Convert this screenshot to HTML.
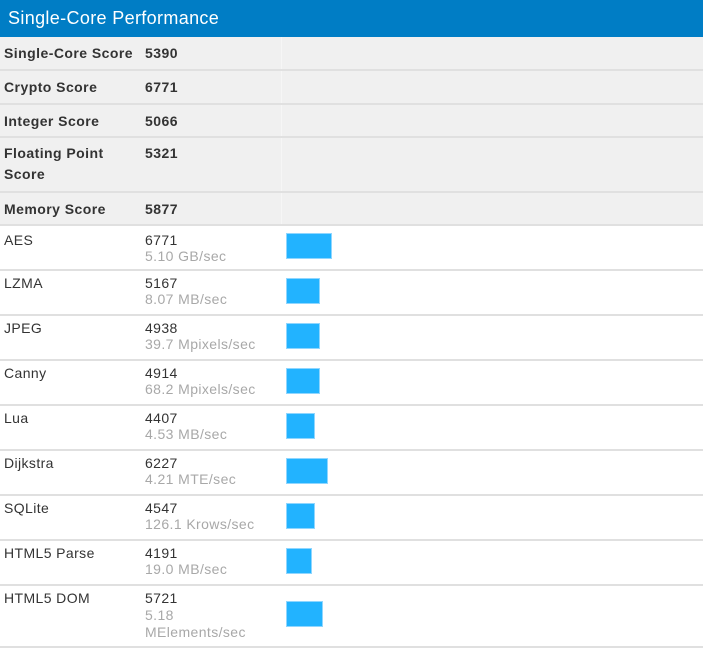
<!DOCTYPE html>
<html><head><style>
body{margin:0;background:#fff;font-family:"Liberation Sans",sans-serif;width:704px;height:649px;overflow:hidden;position:relative}
.hd{position:absolute;left:0;top:0;width:703px;height:37px;background:#007dc5;color:#fff;font-size:18px;letter-spacing:0.35px;line-height:37px;padding-left:8px;box-sizing:border-box}
.r{position:absolute;left:0;width:703px;box-sizing:border-box;border-bottom:2px solid #e0e0e0}
.s{background:#f0f0f0;font-weight:bold;font-size:14px;letter-spacing:0.45px;color:#333}
.s .c3{position:absolute;left:281px;top:0;bottom:0;width:1px;background:#f6f6f6}
.a{position:absolute;left:4px}
.b{position:absolute;left:145px}
.bm{font-size:14px;letter-spacing:0.4px;color:#333;height:45px}
.u{color:#a8a8a8}
.bar{position:absolute;left:286px;height:26px;background:#22b3ff;border:1px solid #8fd6ff;box-sizing:border-box}
</style></head><body>
<div class="hd">Single-Core Performance</div>
<div class="r s" style="top:37px;height:34px"><div class="c3"></div><div class="a" style="top:8px">Single-Core Score</div><div class="b" style="top:8px">5390</div></div>
<div class="r s" style="top:71px;height:34px"><div class="c3"></div><div class="a" style="top:8px">Crypto Score</div><div class="b" style="top:8px">6771</div></div>
<div class="r s" style="top:105px;height:33px"><div class="c3"></div><div class="a" style="top:8px">Integer Score</div><div class="b" style="top:8px">5066</div></div>
<div class="r s" style="top:138px;height:55px;line-height:21px"><div class="c3"></div><div class="a" style="top:5px">Floating Point<br>Score</div><div class="b" style="top:5px">5321</div></div>
<div class="r s" style="top:193px;height:33px"><div class="c3"></div><div class="a" style="top:8px">Memory Score</div><div class="b" style="top:8px">5877</div></div>

<div class="r bm" style="top:226px;line-height:16px"><div class="a" style="top:6px">AES</div><div class="b" style="top:6px">6771<br><span class="u">5.10 GB/sec</span></div><div class="bar" style="top:7px;width:46px"></div></div>
<div class="r bm" style="top:271px;line-height:16px"><div class="a" style="top:4px">LZMA</div><div class="b" style="top:4px">5167<br><span class="u">8.07 MB/sec</span></div><div class="bar" style="top:7px;width:34px"></div></div>
<div class="r bm" style="top:316px;line-height:16px"><div class="a" style="top:4px">JPEG</div><div class="b" style="top:4px">4938<br><span class="u">39.7 Mpixels/sec</span></div><div class="bar" style="top:7px;width:34px"></div></div>
<div class="r bm" style="top:361px;line-height:16px"><div class="a" style="top:4px">Canny</div><div class="b" style="top:4px">4914<br><span class="u">68.2 Mpixels/sec</span></div><div class="bar" style="top:7px;width:34px"></div></div>
<div class="r bm" style="top:406px;line-height:16px"><div class="a" style="top:4px">Lua</div><div class="b" style="top:4px">4407<br><span class="u">4.53 MB/sec</span></div><div class="bar" style="top:7px;width:29px"></div></div>
<div class="r bm" style="top:451px;line-height:16px"><div class="a" style="top:4px">Dijkstra</div><div class="b" style="top:4px">6227<br><span class="u">4.21 MTE/sec</span></div><div class="bar" style="top:7px;width:42px"></div></div>
<div class="r bm" style="top:496px;line-height:16px"><div class="a" style="top:4px">SQLite</div><div class="b" style="top:4px">4547<br><span class="u">126.1 Krows/sec</span></div><div class="bar" style="top:7px;width:29px"></div></div>
<div class="r bm" style="top:541px;line-height:16px"><div class="a" style="top:4px">HTML5 Parse</div><div class="b" style="top:4px">4191<br><span class="u">19.0 MB/sec</span></div><div class="bar" style="top:7px;width:26px"></div></div>
<div class="r bm" style="top:586px;height:62px;line-height:17px"><div class="a" style="top:4px">HTML5 DOM</div><div class="b" style="top:4px">5721<br><span class="u">5.18<br>MElements/sec</span></div><div class="bar" style="top:15px;width:37px"></div></div>
</body></html>
